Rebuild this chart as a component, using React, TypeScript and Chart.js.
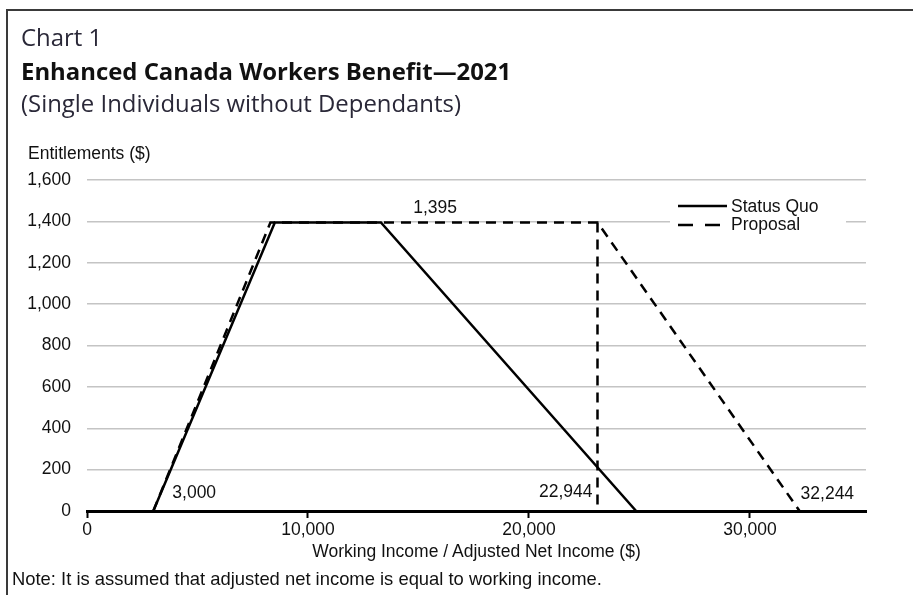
import React, { useEffect, useRef } from 'react';
import { Chart, registerables } from 'chart.js';

Chart.register(...registerables);

// ---- data ----
const statusQuoX = [3000, 8500, 13300, 24850];
const statusQuoY = [0, 1395, 1395, 0];
const proposalX = [3000, 8300, 23100, 32244];
const proposalY = [0, 1395, 1395, 0];
const thresholdX = [23100, 23100];
const thresholdY = [1395, 0];
const seriesLabels = ['Status Quo', 'Proposal'];
const xTickValues = [0, 10000, 20000, 30000];
const xMin = 0;
const xMax = 35250;
const yMin = 0;
const yMax = 1600;
const yStep = 200;
const annotationTexts = ['1,395', '3,000', '22,944', '32,244'];
const annotationX = [15750, 3000, 23100, 32244];
const annotationY = [1395, 0, 0, 0];

const chartFont = '"Liberation Sans", Arial, sans-serif';
const titleFont = '"Open Sans", "Noto Sans", sans-serif';
const FS = 17.5;
const TFS = 23.9;

const toPoints = (xs: number[], ys: number[]) => xs.map((x, i) => ({ x, y: ys[i] }));

const overlayPlugin = {
  id: 'overlay',
  afterDatasetsDraw(chart: any) {
    const { ctx } = chart;
    const xs = chart.scales.x;
    const ys = chart.scales.y;
    ctx.save();
    ctx.font = `${FS}px ${chartFont}`;
    ctx.fillStyle = '#111';
    ctx.textBaseline = 'middle';
    // annotations
    const cfg = [
      { align: 'center', dx: 0, dy: -14 },
      { align: 'left', dx: 19, dy: -18 },
      { align: 'right', dx: -5, dy: -19 },
      { align: 'left', dx: 1, dy: -17 },
    ];
    annotationTexts.forEach((t, i) => {
      ctx.textAlign = cfg[i].align;
      ctx.fillText(t, xs.getPixelForValue(annotationX[i]) + cfg[i].dx, ys.getPixelForValue(annotationY[i]) + cfg[i].dy);
    });

    // legend
    const lx = 678;
    const ly = 206;
    ctx.fillStyle = '#fff';
    ctx.fillRect(670, 195, 176, 41);
    ctx.strokeStyle = '#000';
    ctx.lineWidth = 2.5;
    ctx.beginPath();
    ctx.moveTo(lx, ly);
    ctx.lineTo(lx + 49, ly);
    ctx.stroke();
    ctx.setLineDash([15, 12]);
    ctx.beginPath();
    ctx.moveTo(lx, ly + 19);
    ctx.lineTo(lx + 42, ly + 19);
    ctx.stroke();
    ctx.setLineDash([]);
    ctx.fillStyle = '#111';
    ctx.textAlign = 'left';
    ctx.fillText(seriesLabels[0], lx + 53, ly + 1);
    ctx.fillText(seriesLabels[1], lx + 53, ly + 19);
    ctx.restore();
  },
};

function ChartCanvas() {
  const ref = useRef<HTMLCanvasElement | null>(null);
  useEffect(() => {
    if (!ref.current) return;
    const chart = new Chart(ref.current, {
      type: 'scatter',
      data: {
        datasets: [
          {
            label: seriesLabels[0],
            data: toPoints(statusQuoX, statusQuoY),
            showLine: true,
            borderColor: '#000',
            borderWidth: 2.5,
            pointRadius: 0,
            tension: 0,
          },
          {
            label: seriesLabels[1],
            data: toPoints(proposalX, proposalY),
            showLine: true,
            borderColor: '#000',
            borderWidth: 2.5,
            borderDash: [10, 7],
            pointRadius: 0,
            tension: 0,
          },
          {
            label: 'threshold',
            data: toPoints(thresholdX, thresholdY),
            showLine: true,
            borderColor: '#000',
            borderWidth: 2.5,
            borderDash: [10, 7],
            pointRadius: 0,
            tension: 0,
          },
        ],
      },
      options: {
        responsive: false,
        animation: false,
        devicePixelRatio: 1,
        layout: { padding: { top: 180, right: 47, bottom: 0, left: 0 } },
        plugins: { legend: { display: false }, tooltip: { enabled: false }, title: { display: false } },
        events: [],
        scales: {
          x: {
            type: 'linear',
            position: 'bottom',
            min: xMin,
            max: xMax,
            afterBuildTicks: (s: any) => {
              s.ticks = xTickValues.map((v) => ({ value: v }));
            },
            afterFit: (s: any) => {
              s.height = 84;
            },
            ticks: {
              font: { family: chartFont, size: FS },
              color: '#111',
              padding: 2,
              maxRotation: 0,
              autoSkip: false,
              callback: (v: any) => Number(v).toLocaleString('en-US'),
            },
            grid: {
              drawOnChartArea: false,
              drawTicks: true,
              tickLength: 7,
              tickWidth: 2,
              tickColor: '#000',
            },
            border: { display: true, color: '#000', width: 3 },
          },
          y: {
            type: 'linear',
            min: yMin,
            max: yMax,
            afterFit: (s: any) => {
              s.width = 87;
            },
            ticks: {
              stepSize: yStep,
              font: { family: chartFont, size: FS },
              color: '#111',
              padding: 16,
              callback: (v: any) => Number(v).toLocaleString('en-US'),
            },
            grid: {
              drawTicks: false,
              color: (c: any) => (c.tick && c.tick.value === 0 ? 'rgba(0,0,0,0)' : '#c4c4c4'),
              lineWidth: 1.5,
            },
            border: { display: false },
          },
        },
      },
      plugins: [overlayPlugin],
    } as any);
    return () => chart.destroy();
  }, []);
  return (
    <canvas
      ref={ref}
      width={913}
      height={595}
      style={{ position: 'absolute', left: 0, top: 0, width: 913, height: 595 }}
    />
  );
}

export default function App() {
  const abs = (o: any): React.CSSProperties => ({ position: 'absolute', whiteSpace: 'nowrap', lineHeight: 1, margin: 0, ...o });
  return (
    <div
      style={{
        position: 'fixed',
        left: 0,
        top: 0,
        width: 913,
        height: 595,
        overflow: 'hidden',
        background: '#fff',
      }}
    >
      <div
        style={{
          position: 'absolute',
          left: 6,
          top: 9,
          width: 920,
          height: 600,
          borderLeft: '2px solid #3a3a3a',
          borderTop: '2px solid #3a3a3a',
        }}
      />
      <ChartCanvas />
      <div style={abs({ left: 21, top: 24.5, fontFamily: titleFont, fontSize: TFS, color: '#2a2838' })}>Chart 1</div>
      <div style={abs({ left: 21, top: 58.8, fontFamily: titleFont, fontSize: TFS, fontWeight: 700, color: '#111' })}>
        Enhanced Canada Workers Benefit—2021
      </div>
      <div style={abs({ left: 21, top: 91.1, fontFamily: titleFont, fontSize: TFS, color: '#2a2838' })}>
        (Single Individuals without Dependants)
      </div>
      <div style={abs({ left: 28, top: 145, fontFamily: chartFont, fontSize: FS, color: '#111' })}>Entitlements ($)</div>
      <div
        style={abs({ left: 87, width: 779, top: 543, textAlign: 'center', fontFamily: chartFont, fontSize: FS, color: '#111' })}
      >
        Working Income / Adjusted Net Income ($)
      </div>
      <div style={abs({ left: 12, top: 569.5, fontFamily: chartFont, fontSize: 18.4, color: '#111' })}>
        Note: It is assumed that adjusted net income is equal to working income.
      </div>
    </div>
  );
}
